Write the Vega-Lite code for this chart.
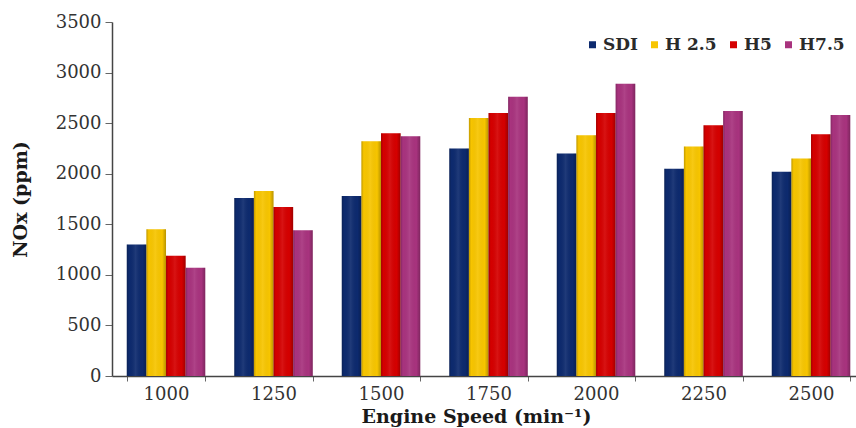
{
  "$schema": "https://vega.github.io/schema/vega-lite/v6.json",
  "autosize": "none",
  "width": 744,
  "height": 354,
  "padding": {"left": 112, "top": 22, "right": 0, "bottom": 52},
  "background": "white",
  "config": {
    "view": {"stroke": null},
    "font": "DejaVu Serif"
  },
  "data": {
    "values": [
      {"speed": "1000", "fuel": "SDI", "nox": 1300},
      {"speed": "1000", "fuel": "H 2.5", "nox": 1450},
      {"speed": "1000", "fuel": "H5", "nox": 1190},
      {"speed": "1000", "fuel": "H7.5", "nox": 1070},
      {"speed": "1250", "fuel": "SDI", "nox": 1760},
      {"speed": "1250", "fuel": "H 2.5", "nox": 1830},
      {"speed": "1250", "fuel": "H5", "nox": 1670},
      {"speed": "1250", "fuel": "H7.5", "nox": 1440},
      {"speed": "1500", "fuel": "SDI", "nox": 1780},
      {"speed": "1500", "fuel": "H 2.5", "nox": 2320},
      {"speed": "1500", "fuel": "H5", "nox": 2400},
      {"speed": "1500", "fuel": "H7.5", "nox": 2370},
      {"speed": "1750", "fuel": "SDI", "nox": 2250},
      {"speed": "1750", "fuel": "H 2.5", "nox": 2550},
      {"speed": "1750", "fuel": "H5", "nox": 2600},
      {"speed": "1750", "fuel": "H7.5", "nox": 2760},
      {"speed": "2000", "fuel": "SDI", "nox": 2200},
      {"speed": "2000", "fuel": "H 2.5", "nox": 2380},
      {"speed": "2000", "fuel": "H5", "nox": 2600},
      {"speed": "2000", "fuel": "H7.5", "nox": 2890},
      {"speed": "2250", "fuel": "SDI", "nox": 2050},
      {"speed": "2250", "fuel": "H 2.5", "nox": 2270},
      {"speed": "2250", "fuel": "H5", "nox": 2480},
      {"speed": "2250", "fuel": "H7.5", "nox": 2620},
      {"speed": "2500", "fuel": "SDI", "nox": 2020},
      {"speed": "2500", "fuel": "H 2.5", "nox": 2150},
      {"speed": "2500", "fuel": "H5", "nox": 2390},
      {"speed": "2500", "fuel": "H7.5", "nox": 2580}
    ]
  },
  "encoding": {
    "x": {
      "field": "speed",
      "type": "nominal",
      "sort": null,
      "scale": {"paddingInner": 0.27, "paddingOuter": 0.0955, "align": 0.72},
      "axis": {
        "title": "Engine Speed (min⁻¹)",
        "titleFont": "DejaVu Serif",
        "titleFontSize": 19,
        "titleFontWeight": "bold",
        "titleColor": "#1a1a1a",
        "titlePadding": 4,
        "titleX": 364,
        "titleAnchor": "middle",
        "titleAlign": "center",
        "labelAngle": 0,
        "labelFont": "DejaVu Serif",
        "labelFontSize": 18,
        "labelColor": "#333333",
        "labelPadding": 4,
        "tickBand": "extent",
        "tickSize": 5,
        "tickColor": "#666666",
        "domainColor": "#444444",
        "domainWidth": 1.5
      }
    },
    "xOffset": {
      "field": "fuel",
      "type": "nominal",
      "sort": ["SDI", "H 2.5", "H5", "H7.5"],
      "scale": {"paddingInner": 0, "paddingOuter": 0}
    },
    "y": {
      "field": "nox",
      "type": "quantitative",
      "scale": {"domain": [0, 3500], "nice": false},
      "axis": {
        "title": "NOx (ppm)",
        "titleFont": "DejaVu Serif",
        "titleFontSize": 19,
        "titleFontWeight": "bold",
        "titleColor": "#1a1a1a",
        "titleX": -82,
        "values": [0, 500, 1000, 1500, 2000, 2500, 3000, 3500],
        "format": "d",
        "grid": false,
        "labelFont": "DejaVu Serif",
        "labelFontSize": 18,
        "labelColor": "#333333",
        "labelPadding": 4,
        "tickSize": 7,
        "tickColor": "#666666",
        "domainColor": "#444444",
        "domainWidth": 1.5
      }
    }
  },
  "layer": [
    {
      "mark": {"type": "bar"},
      "encoding": {
        "color": {
          "field": "fuel",
          "type": "nominal",
          "sort": ["SDI", "H 2.5", "H5", "H7.5"],
          "scale": {
            "domain": ["SDI", "H 2.5", "H5", "H7.5"],
            "range": ["#0d2a6e", "#f7c500", "#d50000", "#a8337e"]
          },
          "legend": {
            "title": null,
            "orient": "none",
            "legendX": 472,
            "legendY": 14,
            "padding": 0,
            "direction": "horizontal",
            "symbolType": "square",
            "symbolSize": 49,
            "symbolStrokeWidth": 0,
            "labelFont": "DejaVu Serif",
            "labelFontSize": 17,
            "labelFontWeight": "bold",
            "labelColor": "#2a2a2a",
            "labelOffset": 2,
            "columnPadding": 8
          }
        }
      }
    },
    {
      "mark": {
        "type": "bar",
        "fill": {
          "gradient": "linear",
          "x1": 0, "y1": 0, "x2": 1, "y2": 0,
          "stops": [
            {"offset": 0, "color": "rgba(0,0,0,0.22)"},
            {"offset": 0.12, "color": "rgba(0,0,0,0)"},
            {"offset": 0.45, "color": "rgba(255,255,255,0.08)"},
            {"offset": 0.8, "color": "rgba(0,0,0,0)"},
            {"offset": 1, "color": "rgba(0,0,0,0.25)"}
          ]
        }
      }
    }
  ]
}
